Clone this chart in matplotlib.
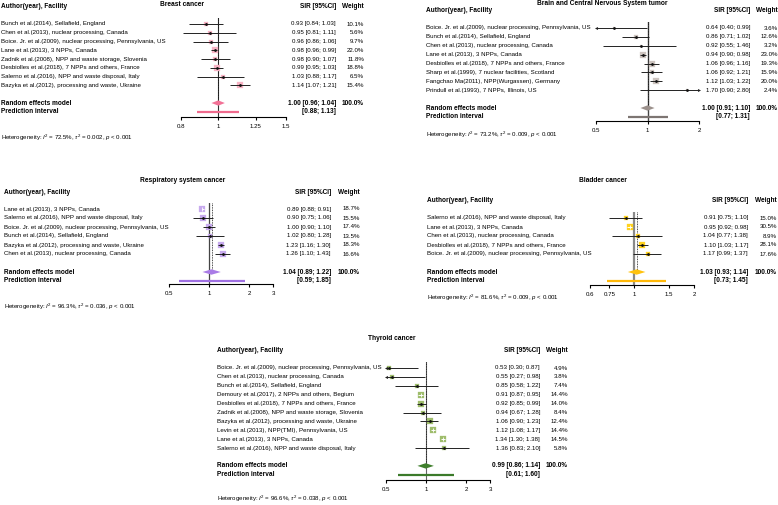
import numpy as np
import matplotlib
matplotlib.use("Agg")
import matplotlib.pyplot as plt
import matplotlib.transforms as mtransforms
from matplotlib.ticker import NullLocator, FixedLocator, FixedFormatter

plt.rcParams['font.family'] = ['Liberation Sans', 'DejaVu Sans']
plt.rcParams['mathtext.fontset'] = 'custom'
plt.rcParams['mathtext.rm'] = 'Liberation Sans'
plt.rcParams['mathtext.it'] = 'Liberation Sans:italic'
plt.rcParams['mathtext.bf'] = 'Liberation Sans:bold'

W, H = 778, 505
fig = plt.figure(figsize=(W / 100, H / 100), dpi=100)

# ---------------- data ----------------
breast_studies = ["Bunch et al.(2014), Sellafield, England",
                  "Chen et al.(2013), nuclear processing, Canada",
                  "Boice. Jr. et al.(2009), nuclear processing, Pennsylvania, US",
                  "Lane et al.(2013), 3 NPPs, Canada",
                  "Zadnik et al.(2008), NPP and waste storage, Slovenia",
                  "Desbiolles et al.(2018), 7 NPPs and others, France",
                  "Salerno et al.(2016), NPP and waste disposal, Italy",
                  "Bazyka et al.(2012), processing and waste, Ukraine"]
breast_sir = [0.93, 0.95, 0.96, 0.98, 0.98, 0.99, 1.03, 1.14]
breast_lo = [0.84, 0.81, 0.86, 0.96, 0.90, 0.95, 0.88, 1.07]
breast_hi = [1.03, 1.11, 1.06, 0.99, 1.07, 1.03, 1.17, 1.21]
breast_weight = [10.1, 5.6, 9.7, 22.0, 11.8, 18.8, 6.5, 15.4]
breast_re = [1.00, 0.96, 1.04]
breast_pi = [0.88, 1.13]
breast_het = ["72.5%", "0.002"]
breast_ticks = [0.8, 1, 1.25, 1.5]
breast_ticklabels = ["0.8", "1", "1.25", "1.5"]

brain_studies = ["Boice. Jr. et al.(2009), nuclear processing, Pennsylvania, US",
                 "Bunch et al.(2014), Sellafield, England",
                 "Chen et al.(2013), nuclear processing, Canada",
                 "Lane et al.(2013), 3 NPPs, Canada",
                 "Desbiolles et al.(2018), 7 NPPs and others, France",
                 "Sharp et al.(1999), 7 nuclear facilities, Scotland",
                 "Fangchao Ma(2011), NPP(Wurgassen), Germany",
                 "Prindull et al.(1993), 7 NPPs, Illinois, US"]
brain_sir = [0.64, 0.86, 0.92, 0.94, 1.06, 1.06, 1.12, 1.70]
brain_lo = [0.40, 0.71, 0.55, 0.90, 0.96, 0.92, 1.03, 0.90]
brain_hi = [0.99, 1.02, 1.46, 0.98, 1.16, 1.21, 1.22, 2.80]
brain_weight = [3.6, 12.6, 3.2, 23.0, 19.3, 15.9, 20.0, 2.4]
brain_re = [1.00, 0.91, 1.10]
brain_pi = [0.77, 1.31]
brain_het = ["73.2%", "0.009"]
brain_ticks = [0.5, 1, 2]
brain_ticklabels = ["0.5", "1", "2"]

resp_studies = ["Lane et al.(2013), 3 NPPs, Canada",
                "Salerno et al.(2016), NPP and waste disposal, Italy",
                "Boice. Jr. et al.(2009), nuclear processing, Pennsylvania, US",
                "Bunch et al.(2014), Sellafield, England",
                "Bazyka et al.(2012), processing and waste, Ukraine",
                "Chen et al.(2013), nuclear processing, Canada"]
resp_sir = [0.89, 0.90, 1.00, 1.02, 1.23, 1.26]
resp_lo = [0.88, 0.75, 0.90, 0.80, 1.16, 1.10]
resp_hi = [0.91, 1.06, 1.10, 1.28, 1.30, 1.43]
resp_weight = [18.7, 15.5, 17.4, 13.5, 18.3, 16.6]
resp_re = [1.04, 0.89, 1.22]
resp_pi = [0.59, 1.85]
resp_het = ["96.3%", "0.036"]
resp_ticks = [0.5, 1, 2, 3]
resp_ticklabels = ["0.5", "1", "2", "3"]

bladder_studies = ["Salerno et al.(2016), NPP and waste disposal, Italy",
                   "Lane et al.(2013), 3 NPPs, Canada",
                   "Chen et al.(2013), nuclear processing, Canada",
                   "Desbiolles et al.(2018), 7 NPPs and others, France",
                   "Boice. Jr. et al.(2009), nuclear processing, Pennsylvania, US"]
bladder_sir = [0.91, 0.95, 1.04, 1.10, 1.17]
bladder_lo = [0.75, 0.92, 0.77, 1.03, 0.99]
bladder_hi = [1.10, 0.98, 1.38, 1.17, 1.37]
bladder_weight = [15.0, 30.5, 8.9, 28.1, 17.6]
bladder_re = [1.03, 0.93, 1.14]
bladder_pi = [0.73, 1.45]
bladder_het = ["81.6%", "0.009"]
bladder_ticks = [0.6, 0.75, 1, 1.5, 2]
bladder_ticklabels = ["0.6", "0.75", "1", "1.5", "2"]

thyroid_studies = ["Boice. Jr. et al.(2009), nuclear processing, Pennsylvania, US",
                   "Chen et al.(2013), nuclear processing, Canada",
                   "Bunch et al.(2014), Sellafield, England",
                   "Demoury et al.(2017), 2 NPPs and others, Begium",
                   "Desbiolles et al.(2018), 7 NPPs and others, France",
                   "Zadnik et al.(2008), NPP and waste storage, Slovenia",
                   "Bazyka et al.(2012), processing and waste, Ukraine",
                   "Levin et al.(2013), NPP(TMI), Pennsylvania, US",
                   "Lane et al.(2013), 3 NPPs, Canada",
                   "Salerno et al.(2016), NPP and waste disposal, Italy"]
thyroid_sir = [0.53, 0.55, 0.85, 0.91, 0.92, 0.94, 1.06, 1.12, 1.34, 1.36]
thyroid_lo = [0.30, 0.27, 0.58, 0.87, 0.85, 0.67, 0.90, 1.08, 1.30, 0.83]
thyroid_hi = [0.87, 0.98, 1.22, 0.95, 0.99, 1.28, 1.23, 1.17, 1.38, 2.10]
thyroid_weight = [4.9, 3.8, 7.4, 14.4, 14.0, 8.4, 12.4, 14.4, 14.5, 5.8]
thyroid_re = [0.99, 0.86, 1.14]
thyroid_pi = [0.61, 1.60]
thyroid_het = ["96.6%", "0.038"]
thyroid_ticks = [0.5, 1, 2, 3]
thyroid_ticklabels = ["0.5", "1", "2", "3"]

FS = 4.4


def fx(x):
    return x / W


def fy(y):
    return 1 - y / H


def draw_panel(title, studies, sir, lo, hi, weight, re, pi, het, ticks, ticklabels, L):
    n = len(studies)
    row0, dy = L['row0'], L['dy']
    top_idx = -0.7
    axis_idx = (L['axis_y'] - row0) / dy
    top_px = row0 + top_idx * dy
    ax = fig.add_axes([fx(L['x0']), fy(L['axis_y']), (L['x1'] - L['x0']) / W,
                       (L['axis_y'] - top_px) / H])
    ax.set_xscale('log')
    xmin, xmax = ticks[0], ticks[-1]
    ax.set_xlim(xmin, xmax)
    ax.set_ylim(axis_idx, top_idx)
    ax.patch.set_alpha(0)
    for s in ['top', 'right', 'left']:
        ax.spines[s].set_visible(False)
    ax.spines['bottom'].set_linewidth(0.8)
    ax.xaxis.set_major_locator(FixedLocator(ticks))
    ax.xaxis.set_major_formatter(FixedFormatter(ticklabels))
    ax.xaxis.set_minor_locator(NullLocator())
    ax.tick_params(axis='x', length=2.5, width=0.8, labelsize=FS, pad=2.5)
    ax.set_yticks([])

    ax.axvline(1, color=L['ref_color'], lw=L['ref_lw'], zorder=1)

    trans = mtransforms.blended_transform_factory(fig.transFigure, ax.transData)
    wmax = max(weight)
    for i, (name, s, a, b, w) in enumerate(zip(studies, sir, lo, hi, weight)):
        side = max(2.0, L['box'] * np.sqrt(w / wmax))
        ax.plot([s], [i], marker='s', ms=side * 0.72, mfc=L['box_color'],
                mec=L['box_color'], mew=0.2, ls='none', zorder=3)
        ac, bc = max(a, xmin), min(b, xmax)
        xs = ax.transData.transform([(ac, i), (bc, i), (s, i)])[:, 0]
        inside = (xs[2] - xs[0] < side / 2) and (xs[1] - xs[2] < side / 2)
        col = 'white' if inside else '#222222'
        ax.plot([ac, bc], [i, i], color=col, lw=0.7, zorder=4, solid_capstyle='butt')
        if not inside:
            ax.plot([s], [i], marker='o', ms=1.0, color='#111111', zorder=5)
        else:
            ax.plot([s], [i], marker='|', ms=side * 0.4, color='white', mew=0.6, zorder=5)
        if a < xmin:
            ax.plot([xmin], [i], marker='<', ms=2.2, color='#222222', zorder=4,
                    clip_on=False, mew=0)
        if b > xmax:
            ax.plot([xmax], [i], marker='>', ms=2.2, color='#222222', zorder=4,
                    clip_on=False, mew=0)
        ax.text(fx(L['label_x']), i, name, transform=trans, ha='left', va='center', fontsize=FS)
        ax.text(fx(L['val_x']), i, f"{s:.2f} [{a:.2f}; {b:.2f}]", transform=trans,
                ha='right', va='center', fontsize=FS)
        ax.text(fx(L['wt_x']), i, f"{w:.1f}%", transform=trans,
                ha='right', va='center', fontsize=FS)

    yr = n + 1
    ax.fill([re[1], re[0], re[2], re[0]], [yr, yr - 0.3, yr, yr + 0.3],
            color=L['dia_color'], lw=0, zorder=3)
    ax.plot([pi[0], pi[1]], [n + 2, n + 2], color=L['pi_color'], lw=1.6,
            solid_capstyle='butt', zorder=3)
    ax.plot([re[0], re[0]], [top_idx, yr], ls=(0, (1, 1)), color='#111111', lw=0.6, zorder=2)

    ax.text(fx(L['label_x']), yr, "Random effects model", transform=trans, ha='left',
            va='center', fontsize=FS + 0.3, fontweight='bold')
    ax.text(fx(L['val_x']), yr, f"{re[0]:.2f} [{re[1]:.2f}; {re[2]:.2f}]", transform=trans,
            ha='right', va='center', fontsize=FS + 0.3, fontweight='bold')
    ax.text(fx(L['wt_x']), yr, "100.0%", transform=trans, ha='right', va='center',
            fontsize=FS + 0.3, fontweight='bold')
    ax.text(fx(L['label_x']), n + 2, "Prediction interval", transform=trans, ha='left',
            va='center', fontsize=FS + 0.3, fontweight='bold')
    ax.text(fx(L['val_x']), n + 2, f"[{pi[0]:.2f}; {pi[1]:.2f}]", transform=trans,
            ha='right', va='center', fontsize=FS + 0.3, fontweight='bold')

    fig.text(fx(L['title_x']), fy(L['title_y']), title, ha='center', va='center',
             fontsize=FS + 0.4, fontweight='bold')
    fig.text(fx(L['label_x']), fy(L['head_y']), "Author(year), Facility", ha='left',
             va='center', fontsize=FS + 0.3, fontweight='bold')
    fig.text(fx(L['val_x']), fy(L['head_y']), "SIR [95%CI]", ha='right',
             va='center', fontsize=FS + 0.3, fontweight='bold')
    fig.text(fx(L['wt_x']), fy(L['head_y']), "Weight", ha='right',
             va='center', fontsize=FS + 0.3, fontweight='bold')
    fig.text(fx(L['label_x']), fy(L['het_y']),
             f"Heterogeneity: $I^2$ = {het[0]}, $\\tau^2$ = {het[1]}, $p$ < 0.001",
             ha='left', va='center', fontsize=FS)


draw_panel("Breast cancer", breast_studies, breast_sir, breast_lo, breast_hi, breast_weight,
           breast_re, breast_pi, breast_het, breast_ticks, breast_ticklabels,
           dict(row0=24, dy=8.78, axis_y=117, x0=181, x1=286, label_x=1, val_x=336, wt_x=364,
                title_x=182, title_y=4, head_y=6.5, het_y=138, box=6.5,
                box_color='#f7b3c4', dia_color='#f27196', pi_color='#ef6b8e',
                ref_color='#333333', ref_lw=0.8))

draw_panel("Brain and Central Nervous System tumor", brain_studies, brain_sir, brain_lo,
           brain_hi, brain_weight, brain_re, brain_pi, brain_het, brain_ticks,
           brain_ticklabels,
           dict(row0=28, dy=8.89, axis_y=121, x0=596, x1=699, label_x=426, val_x=750, wt_x=778,
                title_x=602, title_y=3.5, head_y=10, het_y=135, box=5.8,
                box_color='#cdc4bf', dia_color='#9c918c', pi_color='#7d7572',
                ref_color='#444444', ref_lw=1.0))

draw_panel("Respiratory system cancer", resp_studies, resp_sir, resp_lo, resp_hi,
           resp_weight, resp_re, resp_pi, resp_het, resp_ticks, resp_ticklabels,
           dict(row0=209, dy=9.0, axis_y=284, x0=169, x1=273, label_x=4, val_x=331, wt_x=360,
                title_x=183, title_y=180, head_y=192, het_y=307, box=5.8,
                box_color='#c7aaee', dia_color='#a97be6', pi_color='#9f70e2',
                ref_color='#444444', ref_lw=0.9))

draw_panel("Bladder cancer", bladder_studies, bladder_sir, bladder_lo, bladder_hi,
           bladder_weight, bladder_re, bladder_pi, bladder_het, bladder_ticks,
           bladder_ticklabels,
           dict(row0=218, dy=9.0, axis_y=285, x0=590, x1=694, label_x=427, val_x=748, wt_x=777,
                title_x=603, title_y=180, head_y=201, het_y=298, box=6.5,
                box_color='#ffd21f', dia_color='#ffc20e', pi_color='#ffb808',
                ref_color='#8a8a8a', ref_lw=1.6))

draw_panel("Thyroid cancer", thyroid_studies, thyroid_sir, thyroid_lo, thyroid_hi,
           thyroid_weight, thyroid_re, thyroid_pi, thyroid_het, thyroid_ticks,
           thyroid_ticklabels,
           dict(row0=368, dy=8.9, axis_y=480, x0=386, x1=490, label_x=217, val_x=540, wt_x=568,
                title_x=392, title_y=339, head_y=350, het_y=499, box=6.5,
                box_color='#9fbd6c', dia_color='#3f7f2c', pi_color='#3b7a2a',
                ref_color='#666666', ref_lw=0.8))

fig.savefig("out.png", dpi=100)
